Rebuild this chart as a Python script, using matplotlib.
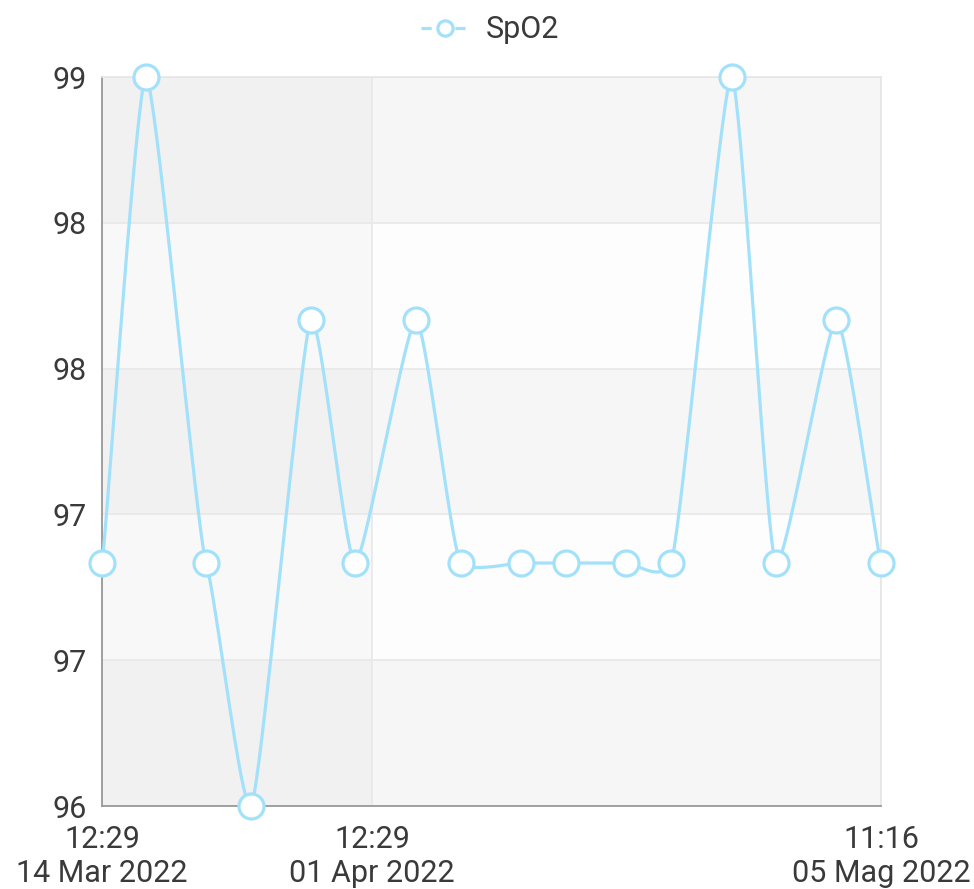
import matplotlib.pyplot as plt
import matplotlib.dates as mdates
from matplotlib.lines import Line2D
import numpy as np
import pandas as pd

plt.rcParams['font.family'] = ['Roboto', 'DejaVu Sans']

times = ['2022-03-14 12:29', '2022-03-17 11:00', '2022-03-21 11:00', '2022-03-24 11:00',
         '2022-03-28 11:00', '2022-03-31 09:30', '2022-04-04 11:00', '2022-04-07 11:00',
         '2022-04-11 11:00', '2022-04-14 11:00', '2022-04-18 11:00', '2022-04-21 11:00',
         '2022-04-25 12:00', '2022-04-28 11:00', '2022-05-02 12:00', '2022-05-05 11:16']
spo2 = [97, 99, 97, 96, 98, 97, 98, 97, 97, 97, 97, 97, 99, 97, 98, 97]
tick_times = ['2022-03-14 12:29', '2022-04-01 12:29', '2022-05-05 11:16']
tick_labels = ['12:29\n14 Mar 2022', '12:29\n01 Apr 2022', '11:16\n05 Mag 2022']

color = '#a3e1fa'
txt = '#3a3a3a'
kx, ky = 0.55, 0.25  # smoothing tension

x = mdates.date2num(pd.to_datetime(times))
y = np.array(spo2, dtype=float)

# light cardinal-spline smoothing of the series line
px = np.concatenate([[x[0]], x, [x[-1]]])
py = np.concatenate([[y[0]], y, [y[-1]]])
sx, sy = [], []
t = np.linspace(0, 1, 40)
for i in range(1, len(px) - 2):
    p0x, p1x, p2x, p3x = px[i-1], px[i], px[i+1], px[i+2]
    p0y, p1y, p2y, p3y = py[i-1], py[i], py[i+1], py[i+2]
    c1x, c1y = p1x + (p2x - p0x) / 6 * kx, p1y + (p2y - p0y) / 6 * ky
    c2x, c2y = p2x - (p3x - p1x) / 6 * kx, p2y - (p3y - p1y) / 6 * ky
    bx = (1-t)**3*p1x + 3*(1-t)**2*t*c1x + 3*(1-t)*t**2*c2x + t**3*p2x
    by = (1-t)**3*p1y + 3*(1-t)**2*t*c1y + 3*(1-t)*t**2*c2y + t**3*p2y
    sx.extend(bx)
    sy.extend(by)

fig = plt.figure(figsize=(9.74, 8.89), dpi=100)
ax = fig.add_axes([102/974, 83/889, 779/974, 729/889])

yticks = np.linspace(96, 99, 6)
xticks = mdates.date2num(pd.to_datetime(tick_times))

ax.set_xlim(x[0], x[-1])
ax.set_ylim(96, 99)

# striped background
for i in range(5):
    ax.axhspan(yticks[i], yticks[i+1], color='black', alpha=0.035 if i % 2 == 0 else 0.008,
               lw=0, zorder=0)
ax.axvspan(xticks[0], xticks[1], color='black', alpha=0.02, lw=0, zorder=0)

ax.plot(sx, sy, color=color, lw=2.3, zorder=3, clip_on=False)
ax.plot(x, y, ls='none', marker='o', ms=18, mfc='white', mec=color, mew=2.3,
        zorder=4, clip_on=False)

ax.set_yticks(yticks)
ax.set_yticklabels(['%.0f' % v for v in yticks])
ax.set_xticks(xticks)
ax.set_xticklabels(tick_labels, linespacing=1.2)
ax.grid(True, color='#e8e8e8', lw=1.2, zorder=1)
ax.set_axisbelow(True)
ax.tick_params(length=0, labelsize=22, labelcolor=txt)
ax.tick_params(axis='y', pad=11)
ax.tick_params(axis='x', pad=14)

for s in ['left', 'bottom']:
    ax.spines[s].set_color('#999999')
    ax.spines[s].set_linewidth(1.3)
for s in ['top', 'right']:
    ax.spines[s].set_color('#e6e6e6')
    ax.spines[s].set_linewidth(1.2)

handle = Line2D([], [], color=color, lw=2.3, ls=(0, (3.2, 7.4, 3.2, 60)),
                marker='o', ms=11, mfc='white', mec=color, mew=2.3)
fig.legend([handle], ['SpO2'], loc='center', bbox_to_anchor=(490/974, 1 - 30/889),
           frameon=False, fontsize=22, labelcolor=txt, handlelength=1.55, handletextpad=0.55)

fig.savefig('out.png', dpi=100)
